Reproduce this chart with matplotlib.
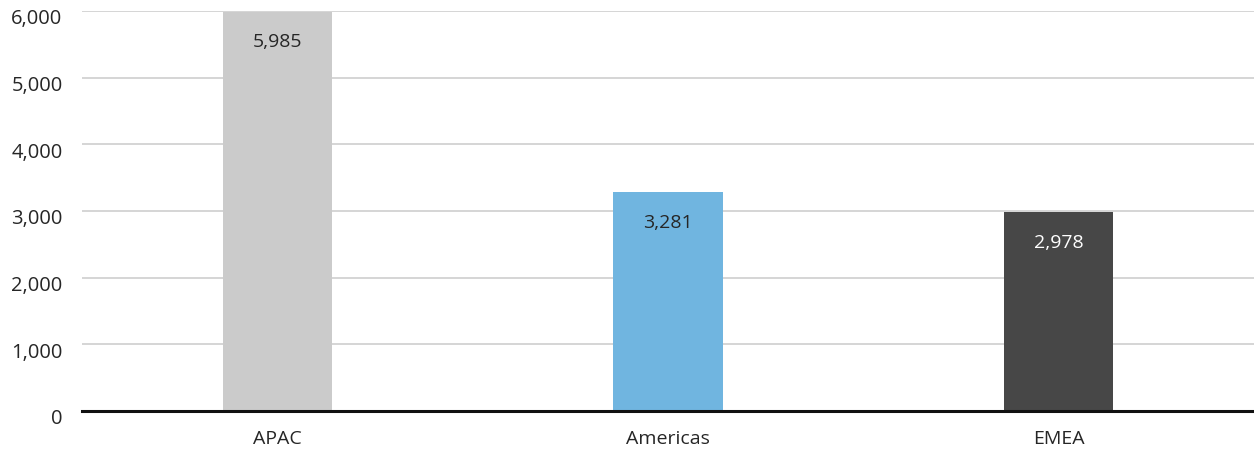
import matplotlib.pyplot as plt
import matplotlib.transforms as mtransforms

plt.rcParams['font.family'] = ['Open Sans', 'DejaVu Sans']

# data
regions = ['APAC', 'Americas', 'EMEA']
values = [5985, 3281, 2978]
bar_colors = ['#cbcbcb', '#70b5e0', '#474747']
label_colors = ['#262626', '#262626', '#ffffff']
y_ticks = [0, 1000, 2000, 3000, 4000, 5000, 6000]

fig = plt.figure(figsize=(12.54, 4.5), dpi=100)
ax = fig.add_axes([0.0654, 0.0867, 0.9346, 0.889])

x = range(len(regions))
bars = ax.bar(x, values, width=0.28, color=bar_colors, zorder=2)

for b, v, c in zip(bars, values, label_colors):
    ax.annotate(f'{v:,}', (b.get_x() + b.get_width() / 2, v),
                xytext=(0, -22), textcoords='offset points',
                ha='center', va='center', fontsize=14, color=c, zorder=3)

ax.set_xlim(-0.5, 2.5)
ax.set_ylim(0, 6000)
ax.set_yticks(y_ticks)
ax.set_yticklabels([f'{t:,}' for t in y_ticks])
ax.set_xticks(list(x))
ax.set_xticklabels(regions)

ax.grid(axis='y', color='#cacaca', linewidth=1.1, zorder=0)
ax.set_axisbelow(True)
for s in ['top', 'right', 'left']:
    ax.spines[s].set_visible(False)
ax.spines['bottom'].set_color('#111111')
ax.spines['bottom'].set_linewidth(2.2)
ax.spines['bottom'].set_zorder(4)

ax.tick_params(axis='y', length=0, pad=14, labelsize=14.5, labelcolor='#262626')
ax.tick_params(axis='x', length=0, pad=14, labelsize=14, labelcolor='#262626')

# nudge y labels slightly down, like the reference
shift = mtransforms.ScaledTranslation(0, -6 / 100, fig.dpi_scale_trans)
for lab in ax.get_yticklabels():
    lab.set_transform(lab.get_transform() + shift)

fig.savefig('out.png', dpi=100)
